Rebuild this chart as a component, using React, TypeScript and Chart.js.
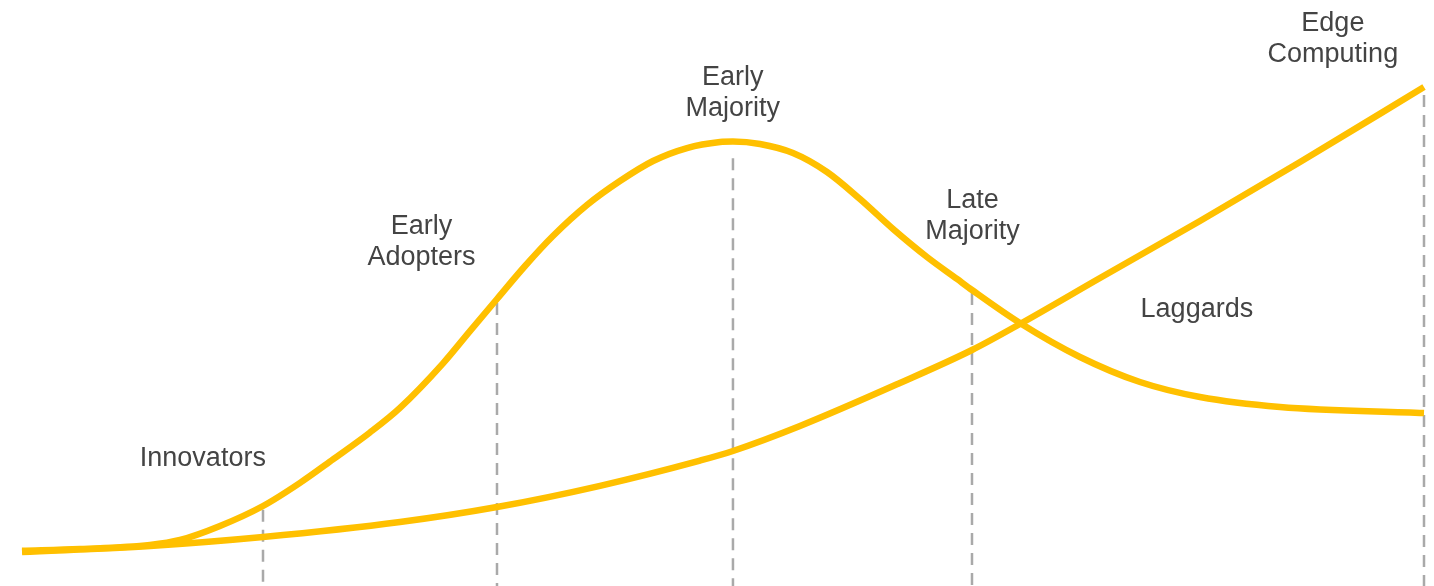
import React, { useEffect, useRef } from "react";
import { Chart, registerables } from "chart.js";

Chart.register(...registerables);

// Bell (adoption segments) curve
const bellX = [0, 4.14, 9.13, 11.27, 14.12, 17.19, 19.83, 22.18, 24.82, 26.96, 30.03, 31.95, 33.88, 35.88, 37.87, 40.3, 42.65, 45.01, 47.43, 49.79, 50.71, 52.64, 54.99, 57.42, 59.77, 62.13, 64.55, 66.69, 67.76, 71.18, 75.46, 79.74, 84.02, 89.73, 100];
const bellY = [6.0, 6.31, 7.0, 7.85, 10.24, 13.65, 17.6, 21.6, 26.2, 30.4, 38.0, 43.5, 48.98, 54.61, 59.73, 65.02, 69.11, 72.53, 74.74, 75.77, 75.85, 75.43, 73.89, 70.65, 66.04, 60.92, 56.14, 52.39, 50.51, 44.88, 39.08, 34.81, 32.25, 30.55, 29.52];

// Edge Computing cumulative curve
const edgeX = [0, 9.13, 17.19, 26.96, 33.88, 41.23, 48.36, 50.71, 55.49, 62.62, 67.76, 71.18, 76.89, 84.02, 91.16, 100];
const edgeY = [5.8, 6.83, 8.36, 10.92, 13.48, 17.1, 21.4, 23.04, 27.3, 34.64, 40.27, 44.71, 52.56, 62.29, 72.35, 85.15];

// Segment boundaries (dashed lines)
const boundaryX = [17.19, 33.88, 50.71, 67.76, 100];
const boundaryTop = [13.0, 48.3, 73.0, 50.0, 83.8];

// Labels
const labelText = [["Innovators"], ["Early", "Adopters"], ["Early", "Majority"], ["Late", "Majority"], ["Laggards"], ["Edge", "Computing"]];
const labelX = [12.9, 28.5, 50.7, 67.8, 83.8, 93.5];
const labelY = [21.8, 61.3, 86.7, 65.7, 47.1, 96.0];

const GOLD = "#FFC000";

export default function App() {
  const ref = useRef<HTMLCanvasElement>(null);
  useEffect(() => {
    document.body.style.margin = "0";
    const canvas = ref.current!;
    const labelsPlugin = {
      id: "segLabels",
      afterDatasetsDraw(chart: any) {
        const { ctx, scales } = chart;
        ctx.save();
        ctx.fillStyle = "#444444";
        ctx.font = "27px 'Liberation Sans', Arial, sans-serif";
        ctx.textAlign = "center";
        ctx.textBaseline = "middle";
        labelText.forEach((lines, i) => {
          const px = scales.x.getPixelForValue(labelX[i]);
          const py = scales.y.getPixelForValue(labelY[i]);
          lines.forEach((t, j) => ctx.fillText(t, px, py + j * 31));
        });
        ctx.restore();
      },
    };
    const dashed = boundaryX.map((bx, i) => ({
      data: [
        { x: bx, y: boundaryTop[i] },
        { x: bx, y: 0 },
      ],
      borderColor: "#a9a9a9",
      borderWidth: 2.5,
      borderDash: [12, 8],
      pointRadius: 0,
      tension: 0,
      clip: false as any,
    }));
    const chart = new Chart(canvas, {
      type: "line",
      data: {
        datasets: [
          {
            data: bellX.map((x, i) => ({ x, y: bellY[i] })),
            borderColor: GOLD,
            borderWidth: 6.5,
            pointRadius: 0,
            cubicInterpolationMode: "monotone",
            clip: false as any,
          },
          {
            data: edgeX.map((x, i) => ({ x, y: edgeY[i] })),
            borderColor: GOLD,
            borderWidth: 6.5,
            pointRadius: 0,
            cubicInterpolationMode: "monotone",
            clip: false as any,
          },
          ...dashed,
        ] as any,
      },
      options: {
        animation: false,
        responsive: false,
        layout: { padding: { left: 22, right: 10, top: 0, bottom: 0 } },
        plugins: { legend: { display: false }, tooltip: { enabled: false } },
        scales: {
          x: { type: "linear", min: 0, max: 100, display: false },
          y: { type: "linear", min: 0, max: 100, display: false },
        },
      },
      plugins: [labelsPlugin],
    });
    return () => chart.destroy();
  }, []);
  return (
    <div style={{ width: 1434, height: 586 }}>
      <canvas ref={ref} width={1434} height={586} />
    </div>
  );
}
